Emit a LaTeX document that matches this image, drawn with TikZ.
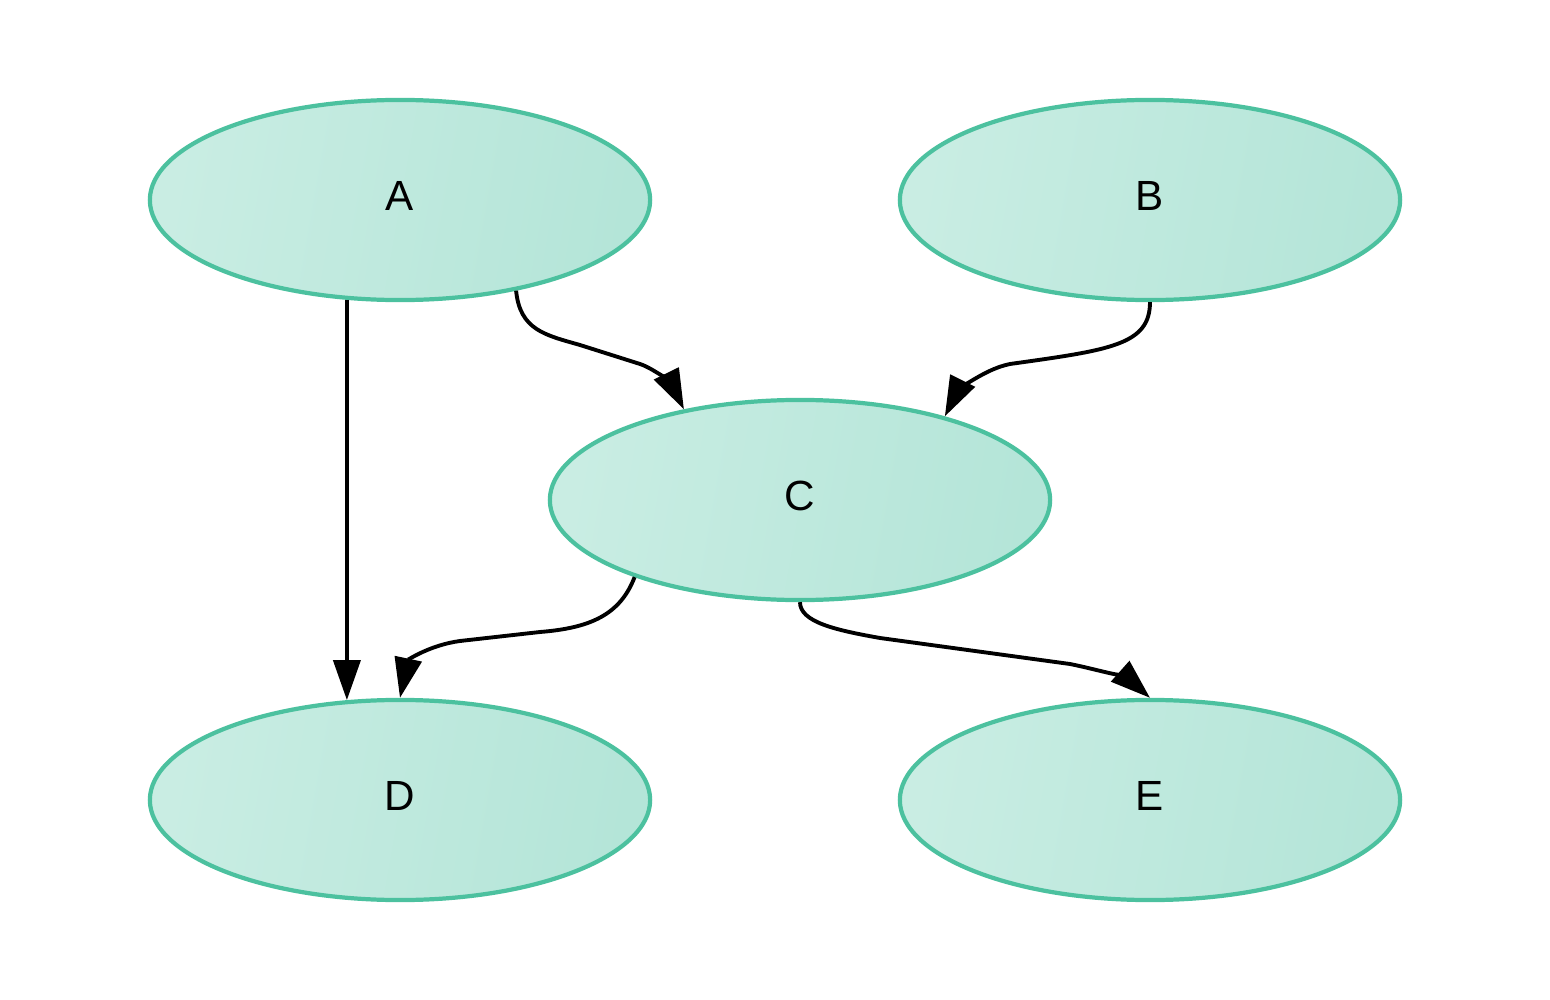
\documentclass[tikz,border=0pt]{standalone}
\usepackage{fontspec}
\setmainfont{Liberation Sans}
\usetikzlibrary{shapes.geometric,arrows.meta}
\definecolor{nodeborder}{HTML}{4CC19F}
\definecolor{fillL}{HTML}{C9EDE3}
\definecolor{fillR}{HTML}{B4E5D8}
\tikzset{
  box/.style={ellipse, minimum width=5cm, minimum height=2cm, draw=nodeborder, line width=1.2pt,
    left color=fillL, right color=fillR, shading angle=80, font=\fontsize{12}{14}\selectfont,
    text height=8.6pt, text depth=2.8pt},
  edge/.style={line width=1.1pt, draw=black, -{Triangle[length=0.4cm,width=0.27cm]}}
}
\begin{document}
\begin{tikzpicture}[x=0.01cm,y=-0.01cm]
\useasboundingbox (0,0) rectangle (1550,1000);
\node[box] (A) at (400,200) {A};
\node[box] (B) at (1150,200) {B};
\node[box] (C) at (800,500) {C};
\node[box] (D) at (400,800) {D};
\node[box] (E) at (1150,800) {E};
\draw[edge] (A.-118.4) -- (D.118.4);
\draw[edge] (A.-38.5) .. controls (520,330) and (545,335) .. (580,345) -- (640,364) .. controls (655,369) and (672,385) .. (C.142);
\draw[edge] (B.-90) .. controls (1150,345) and (1110,350) .. (1010,364) .. controls (980,370) and (955,396) .. (C.30.4);
\draw[edge] (C.-155.2) .. controls (620,615) and (590,628) .. (540,632) -- (460,641) .. controls (430,645) and (408,660) .. (D.90);
\draw[edge] (C.-90) .. controls (800,622) and (835,630) .. (880,638) -- (1070,664) .. controls (1100,670) and (1130,680) .. (E.90);
\end{tikzpicture}
\end{document}
